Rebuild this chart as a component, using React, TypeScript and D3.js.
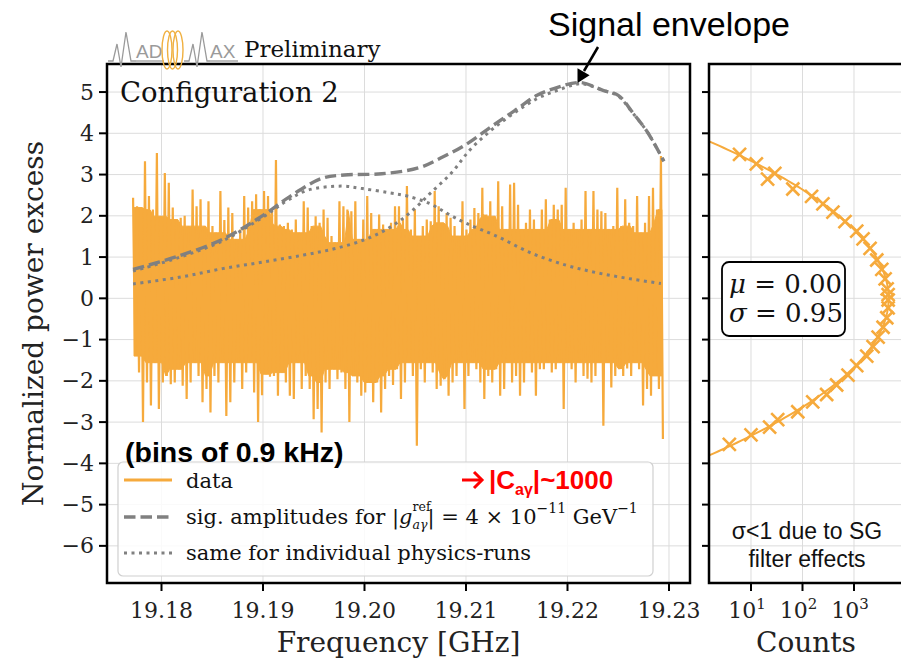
import React from 'react';
import * as d3 from 'd3';

// ---------- axis ticks ----------
const xTickValues = [19.18, 19.19, 19.2, 19.21, 19.22, 19.23];
const xTickLabels = ['19.18', '19.19', '19.20', '19.21', '19.22', '19.23'];
const yTickValues = [5, 4, 3, 2, 1, 0, -1, -2, -3, -4, -5, -6];
const countTickExps = [1, 2, 3];

// ---------- data spectrum (normalized power excess) ----------
const F_START = 19.1772;
const F_END = 19.2294;
// upper excursions, read left to right
const dataHigh = [
  2.44, 2.23, 2.2, 3.32, 2.48, 2.15, 3.52, 1.99, 3.04, 2.8, 2.2, 1.91, 1.95, 2.0, 1.75, 2.64, 2.23, 2.4, 1.75, 2.35, 1.75, 1.59, 2.6, 1.9, 2.2, 2.07, 1.43, 1.67, 2.48, 2.2, 2.35,
  2.52, 2.15, 2.6, 2.48, 2.15, 3.35, 1.79, 1.75, 1.83, 1.67, 1.91, 1.59, 2.35, 2.2, 1.75, 1.99, 1.83, 2.15, 1.95, 1.51, 1.35, 2.35, 2.23, 2.15, 2.11, 2.35, 1.43, 1.91, 2.48, 2.07, 1.67, 2.03, 1.79, 1.67, 1.83, 2.23,
  2.23, 1.91, 2.72, 1.67, 2.15, 1.51, 1.75, 1.91, 1.87, 2.6, 2.23, 1.83, 2.07, 1.95, 1.75, 1.51, 2.35, 1.67, 1.91, 2.19, 2.07, 2.68, 2.03, 2.35, 1.99, 2.84, 2.23, 1.67, 2.76, 2.8, 2.27, 1.67, 1.83, 2.15,
  1.91, 1.67, 2.15, 2.4, 1.91, 2.27, 2.15, 2.27, 2.68, 1.67, 1.83, 1.67, 1.91, 2.6, 1.67, 2.6, 2.15, 2.11, 2.07, 1.67, 1.75, 2.68, 1.75, 2.4, 1.83, 1.75, 2.48, 1.59, 1.83, 2.48, 2.68, 2.15, 3.45,
];
// lower excursions, read left to right
const dataLow = [
  -1.4, -1.8, -3.0, -2.04, -2.6, -1.56, -2.68, -2.04, -1.88, -2.08, -2.04, -1.72, -2.12, -2.44, -2.04, -1.56, -1.88, -2.52, -2.2, -2.77, -1.88, -2.04, -1.56, -2.85, -2.52, -2.04, -1.56, -2.2, -1.8, -1.56, -2.28,
  -3.0, -2.35, -1.84, -1.9, -1.88, -2.36, -1.8, -2.04, -2.36, -2.44, -1.56, -2.2, -1.88, -2.2, -2.93, -2.68, -3.25, -2.04, -2.2, -1.72, -1.96, -1.8, -2.2, -3.0, -1.88, -2.04, -2.36, -2.28, -2.04, -2.52, -2.04, -2.77, -2.2, -1.88, -2.1, -1.72,
  -2.44, -2.04, -1.56, -1.88, -3.57, -1.72, -2.04, -1.56, -1.8, -2.2, -2.12, -1.96, -2.36, -2.04, -1.88, -1.56, -2.68, -1.88, -1.56, -1.72, -2.04, -2.44, -1.88, -2.04, -1.72, -2.36, -2.2, -1.56, -2.04, -1.88, -2.36, -2.04, -1.56, -1.8,
  -2.36, -1.72, -1.72, -1.56, -1.8, -1.72, -1.56, -2.68, -1.56, -1.72, -2.04, -1.56, -1.88, -1.95, -2.04, -1.88, -1.56, -3.09, -1.56, -2.16, -1.88, -1.72, -1.88, -1.7, -1.88, -1.56, -1.72, -2.6, -2.2, -2.36, -1.88, -2.2, -3.41,
];

// ---------- signal amplitude curves ----------
const envFreq = [19.1772, 19.1816, 19.186, 19.19, 19.1926, 19.1958, 19.198, 19.2017, 19.2053, 19.2075, 19.21, 19.2126, 19.2148, 19.217, 19.2191, 19.2213, 19.2235, 19.225, 19.2264, 19.2279, 19.2295];
const envVal = [0.7, 1.02, 1.43, 2.01, 2.46, 2.91, 2.99, 3.02, 3.16, 3.4, 3.73, 4.18, 4.55, 4.92, 5.12, 5.23, 5.04, 4.92, 4.51, 4.02, 3.32];

const run1Freq = [19.1772, 19.1816, 19.186, 19.19, 19.1922, 19.1944, 19.1977, 19.1998, 19.2024, 19.2042, 19.2064, 19.2082, 19.21, 19.213, 19.2164, 19.2199, 19.2229, 19.226, 19.2292];
const run1Val = [0.66, 0.98, 1.39, 1.97, 2.34, 2.62, 2.72, 2.66, 2.56, 2.48, 2.3, 2.05, 1.82, 1.51, 1.1, 0.8, 0.62, 0.48, 0.36];

const run2Freq = [19.1772, 19.182, 19.186, 19.19, 19.194, 19.197, 19.2, 19.2025, 19.2045, 19.2065, 19.2086, 19.2104, 19.2126, 19.2148, 19.217, 19.2191, 19.2213, 19.2235, 19.225, 19.2264, 19.2279, 19.2295];
const run2Val = [0.35, 0.52, 0.72, 0.88, 1.05, 1.2, 1.42, 1.72, 2.08, 2.55, 3.05, 3.6, 4.1, 4.5, 4.84, 5.05, 5.2, 5.04, 4.9, 4.5, 4.02, 3.32];

// ---------- histogram (right panel) ----------
const histVal = [3.49, 3.26, 3.03, 2.89, 2.65, 2.47, 2.29, 2.09, 1.86, 1.63, 1.44, 1.21, 0.93, 0.7, 0.47, 0.23, 0.09, -0.04,
  -0.23, -0.47, -0.7, -0.94, -1.17, -1.4, -1.63, -1.86, -2.1, -2.33, -2.51, -2.75, -2.94, -3.12, -3.31, -3.54];
const histCount = [6.0, 12.7, 29, 21, 65, 150, 249, 390, 668, 1130, 1497, 2050, 2770, 3465, 4020, 4400, 4600, 4600,
  4600, 4330, 3670, 2940, 2345, 1770, 1130, 764, 460, 294, 158, 81, 33, 23, 10, 3.8];
const FIT_MU = 0.0;
const FIT_SIGMA = 0.95;
const FIT_AMP = 4700;

const ORANGE = '#f6aa3c';
const GRAY = '#808080';
const GRID = '#dcdcdc';
const SERIF = '"DejaVu Serif", serif';
const SANS = '"Liberation Sans", Arial, sans-serif';

export default function App() {
  const M = { l: 107, r: 690, t: 64, b: 583 };
  const R = { l: 709, r: 901 };
  const x = d3.scaleLinear().domain([19.174631, 19.232069]).range([M.l, M.r]);
  const y = d3.scaleLinear().domain([-6.9, 5.68]).range([M.b, M.t]);
  const xc = d3.scaleLog().domain([1.53, 8177]).range([R.l, R.r]);

  // interleave data excursions
  const N = dataHigh.length;
  const step = (F_END - F_START) / (2 * N - 1);
  const pts: [number, number][] = [];
  for (let i = 0; i < N; i++) {
    pts.push([F_START + 2 * i * step, dataHigh[i]]);
    pts.push([F_START + (2 * i + 1) * step, dataLow[i]]);
  }
  // dense core of the band: range that every neighbourhood of bins reaches
  const core: { f: number; top: number; bot: number }[] = [];
  for (let i = 0; i < N; i++) {
    const a = Math.max(0, i - 2), b = Math.min(N - 1, i + 2);
    core.push({
      f: F_START + (2 * i + 0.5) * step,
      top: Math.min(...dataHigh.slice(a, b + 1)),
      bot: Math.max(...dataLow.slice(a, b + 1)),
    });
  }
  const coreArea = d3.area<{ f: number; top: number; bot: number }>()
    .x(d => x(d.f)).y0(d => y(d.bot)).y1(d => y(d.top));

  const line = d3.line<[number, number]>().x(d => x(d[0])).y(d => y(d[1]));
  const smooth = d3.line<[number, number]>().x(d => x(d[0])).y(d => y(d[1])).curve(d3.curveCatmullRom);
  const env = envFreq.map((f, i) => [f, envVal[i]] as [number, number]);
  const r1 = run1Freq.map((f, i) => [f, run1Val[i]] as [number, number]);
  const r2 = run2Freq.map((f, i) => [f, run2Val[i]] as [number, number]);

  const fitPts: [number, number][] = d3.range(-4.6, 4.61, 0.05).map(v => [FIT_AMP * Math.exp(-((v - FIT_MU) ** 2) / (2 * FIT_SIGMA ** 2)), v]);
  const fitLine = d3.line<[number, number]>().x(d => xc(d[0])).y(d => y(d[1]));

  const legendRows = [480, 517, 553];

  return (
    <svg width={901} height={660} style={{ position: 'absolute', left: 0, top: 0, background: '#fff' }}>
      <defs>
        <clipPath id="clipMain"><rect x={M.l} y={M.t} width={M.r - M.l} height={M.b - M.t} /></clipPath>
        <clipPath id="clipRight"><rect x={R.l} y={M.t} width={R.r - R.l} height={M.b - M.t} /></clipPath>
      </defs>
      <rect x={0} y={0} width={901} height={660} fill="#fff" />

      {/* ---------- main panel grid ---------- */}
      <g stroke={GRID} strokeWidth={1}>
        {xTickValues.map(v => <line key={'gx' + v} x1={x(v)} x2={x(v)} y1={M.t} y2={M.b} />)}
        {yTickValues.map(v => <line key={'gy' + v} x1={M.l} x2={M.r} y1={y(v)} y2={y(v)} />)}
      </g>

      {/* data */}
      <g clipPath="url(#clipMain)">
        <path d={coreArea(core) || ''} fill={ORANGE} stroke={ORANGE} strokeWidth={1} />
        <path d={line(pts) || ''} fill="none" stroke={ORANGE} strokeWidth={2.2} strokeLinejoin="bevel" />
        <path d={smooth(r2) || ''} fill="none" stroke={GRAY} strokeWidth={3} strokeDasharray="3,4.5" />
        <path d={smooth(r1) || ''} fill="none" stroke={GRAY} strokeWidth={3} strokeDasharray="3,4.5" />
        <path d={smooth(env) || ''} fill="none" stroke={GRAY} strokeWidth={3.4} strokeDasharray="11.5,5" />
      </g>

      {/* Configuration label */}
      <text x={120} y={102} fontFamily={SERIF} fontSize={27.5} fill="#111">Configuration 2</text>

      {/* legend */}
      <rect x={118} y={462} width={535} height={114} rx={5} fill="#fff" fillOpacity={0.85} stroke="#d0d0d0" strokeWidth={1.2} />
      <line x1={124} x2={172} y1={legendRows[0]} y2={legendRows[0]} stroke={ORANGE} strokeWidth={3} />
      <line x1={124} x2={172} y1={legendRows[1]} y2={legendRows[1]} stroke={GRAY} strokeWidth={3.4} strokeDasharray="11.5,5" />
      <line x1={124} x2={172} y1={legendRows[2]} y2={legendRows[2]} stroke={GRAY} strokeWidth={3} strokeDasharray="3,4.5" />
      <g fontFamily={SERIF} fontSize={21} fill="#111" dominantBaseline="central">
        <text x={186} y={legendRows[0] + 1}>data</text>
        <text x={186} y={legendRows[1]}>
          sig. amplitudes for |<tspan fontStyle="italic">g</tspan>
          <tspan fontSize={12.5} dy={-11}>ref</tspan>
          <tspan fontSize={12.5} fontStyle="italic" dx={-18} dy={18}>aγ</tspan>
          <tspan dy={-7}>| = 4 × 10</tspan>
          <tspan fontSize={14} dy={-9}>−11</tspan>
          <tspan dy={9}> GeV</tspan>
          <tspan fontSize={14} dy={-9}>−1</tspan>
        </text>
        <text x={186} y={legendRows[2]}>same for individual physics-runs</text>
      </g>

      <text x={125} y={462} fontFamily={SANS} fontWeight="bold" fontSize={28.5} fill="#000">(bins of 0.9 kHz)</text>
      {/* red note */}
      <g stroke="#ff0000" strokeWidth={3} fill="none" strokeLinecap="butt">
        <line x1={462} y1={480} x2={481} y2={480} />
        <path d="M474,472 L482,480 L474,488" />
      </g>
      <text x={489} y={489} fontFamily={SANS} fontWeight="bold" fontSize={26} fill="#ff0000">
        |C<tspan fontSize={16} dy={6}>aγ</tspan><tspan dy={-6}>|~1000</tspan>
      </text>

      {/* main spines */}
      <rect x={M.l} y={M.t} width={M.r - M.l} height={M.b - M.t} fill="none" stroke="#000" strokeWidth={2.5} />

      {/* ticks */}
      <g fontFamily={SERIF} fontSize={22} fill="#222">
        {yTickValues.map(v => (
          <g key={'yt' + v}>
            <line x1={M.l - 8} x2={M.l} y1={y(v)} y2={y(v)} stroke="#000" strokeWidth={2} />
            <text x={M.l - 13} y={y(v)} textAnchor="end" dominantBaseline="central">{v < 0 ? '−' + Math.abs(v) : String(v)}</text>
          </g>
        ))}
        {xTickValues.map((v, i) => (
          <g key={'xt' + v}>
            <line x1={x(v)} x2={x(v)} y1={M.b} y2={M.b + 8} stroke="#000" strokeWidth={2} />
            <text x={x(v)} y={618} textAnchor="middle">{xTickLabels[i]}</text>
          </g>
        ))}
      </g>
      <text x={(M.l + M.r) / 2} y={652} textAnchor="middle" fontFamily={SERIF} fontSize={28} fill="#222">Frequency [GHz]</text>
      <text transform={`translate(43, ${(M.t + M.b) / 2}) rotate(-90)`} textAnchor="middle" fontFamily={SERIF} fontSize={28} fill="#222">Normalized power excess</text>

      {/* ---------- right panel ---------- */}
      <g stroke={GRID} strokeWidth={1}>
        {countTickExps.map(e => <line key={'gc' + e} x1={xc(10 ** e)} x2={xc(10 ** e)} y1={M.t} y2={M.b} />)}
        {yTickValues.map(v => <line key={'gry' + v} x1={R.l} x2={R.r} y1={y(v)} y2={y(v)} />)}
      </g>
      <g clipPath="url(#clipRight)">
        <path d={fitLine(fitPts) || ''} fill="none" stroke={ORANGE} strokeWidth={2} />
        {histVal.map((v, i) => (
          <path key={'h' + i} transform={`translate(${xc(histCount[i])},${y(v)})`} d="M-6.5,-6.5L6.5,6.5M-6.5,6.5L6.5,-6.5" stroke={ORANGE} strokeWidth={2.6} fill="none" />
        ))}
      </g>
      <rect x={722} y={262} width={123} height={74} rx={7} fill="#fff" stroke="#000" strokeWidth={1.8} />
      <g fontFamily={SERIF} fontSize={26} fill="#111">
        <text x={729} y={293}><tspan fontStyle="italic">μ</tspan> = 0.00</text>
        <text x={729} y={322}><tspan fontStyle="italic">σ</tspan> = 0.95</text>
      </g>
      <g fontFamily={SANS} fontSize={23} fill="#111" textAnchor="middle">
        <text x={807} y={539}>σ&lt;1 due to SG</text>
        <text x={807} y={567}>filter effects</text>
      </g>
      <path d={`M${R.r + 2},${M.t} H${R.l} V${M.b} H${R.r + 2}`} fill="none" stroke="#000" strokeWidth={2.5} />
      {yTickValues.map(v => (
        <line key={'ryt' + v} x1={R.l - 7} x2={R.l} y1={y(v)} y2={y(v)} stroke="#000" strokeWidth={2} />
      ))}
      <g fontFamily={SERIF} fontSize={22} fill="#222">
        {countTickExps.map(e => (
          <g key={'ct' + e}>
            <line x1={xc(10 ** e)} x2={xc(10 ** e)} y1={M.b} y2={M.b + 8} stroke="#000" strokeWidth={2} />
            <text x={xc(10 ** e) - 4} y={618} textAnchor="middle">10<tspan fontSize={15} dy={-9}>{e}</tspan></text>
          </g>
        ))}
      </g>
      <text x={806} y={652} textAnchor="middle" fontFamily={SERIF} fontSize={28} fill="#222">Counts</text>

      {/* ---------- logo & preliminary ---------- */}
      <g fill="none" stroke="#9a9a9a" strokeWidth={1.3}>
        <path d="M108,61 L113,61 L117,44 L121,67 L126,32 L131,61 L136,61" />
        <line x1={136} y1={61} x2={164} y2={61} />
        <path d="M184,61 L189,61 L193,44 L197,67 L202,32 L207,61 L210,61" />
        <line x1={210} y1={61} x2={238} y2={61} />
      </g>
      <g fontFamily={SANS} fontSize={19} fill="#9a9a9a">
        <text x={136} y={58}>AD</text>
        <text x={210} y={58}>AX</text>
      </g>
      <g fill="none" stroke="#f0b040" strokeWidth={1.4}>
        <ellipse cx={167} cy={50} rx={5} ry={19} />
        <ellipse cx={172.5} cy={50} rx={5} ry={19} />
        <ellipse cx={178} cy={50} rx={5} ry={19} />
      </g>
      <text x={244} y={57} fontFamily={SERIF} fontSize={23} fill="#111">Preliminary</text>

      {/* ---------- signal envelope annotation ---------- */}
      <text x={548} y={36} fontFamily={SANS} fontSize={34} fill="#000">Signal envelope</text>
      <line x1={598} y1={47} x2={584} y2={71} stroke="#000" strokeWidth={2.5} />
      <polygon points="577.5,83 589.6,75.3 577.5,68.3" fill="#000" />
    </svg>
  );
}
